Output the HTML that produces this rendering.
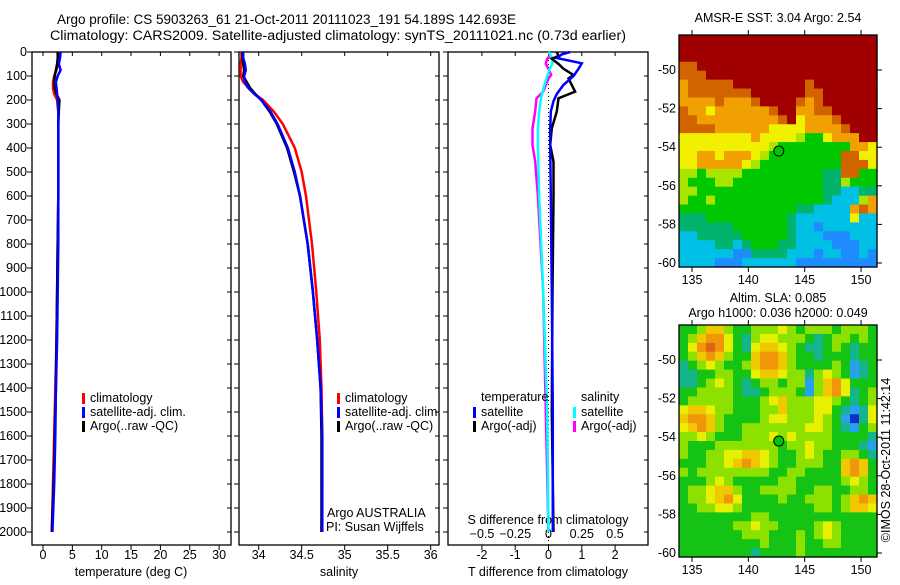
<!DOCTYPE html>
<html><head><meta charset="utf-8"><style>
body{margin:0;background:#fff;width:900px;height:580px;overflow:hidden}
svg text{font-family:"Liberation Sans",sans-serif;font-size:12.5px;fill:#000}
</style></head><body>
<svg id="s" width="900" height="580" xmlns="http://www.w3.org/2000/svg">
<text x="57" y="24" textLength="459" lengthAdjust="spacingAndGlyphs" style="font-size:13.5px">Argo profile: CS 5903263_61 21-Oct-2011 20111023_191 54.189S 142.693E</text>
<text x="50" y="40" textLength="576" lengthAdjust="spacingAndGlyphs" style="font-size:13.5px">Climatology: CARS2009. Satellite-adjusted climatology: synTS_20111021.nc (0.73d earlier)</text>
<text x="778" y="22" text-anchor="middle">AMSR-E SST: 3.04  Argo: 2.54</text>
<text x="778" y="302" text-anchor="middle">Altim. SLA: 0.085</text>
<text x="778" y="317" text-anchor="middle">Argo h1000: 0.036 h2000: 0.049</text>
<text transform="translate(890,460) rotate(-90)" text-anchor="middle">©IMOS 28-Oct-2011 11:42:14</text>
</svg>
<script>
const depths=[0,25,50,75,100,125,150,175,200,250,300,400,500,600,800,1000,1200,1400,1600,1800,2000];
const tempClim=[2.6,2.6,2.5,2.3,1.9,1.7,1.7,1.9,2.4,2.6,2.6,2.6,2.6,2.6,2.5,2.4,2.3,2.1,1.9,1.7,1.5];
const tempSat=[3.0,2.9,2.7,3.0,2.5,2.2,2.3,2.4,2.5,2.6,2.6,2.6,2.6,2.6,2.6,2.5,2.4,2.2,2.1,1.9,1.6];
const tempArgo=[2.5,2.5,2.4,2.2,2.0,1.9,2.0,2.3,2.8,2.7,2.6,2.6,2.6,2.6,2.5,2.4,2.3,2.2,2.0,1.8,1.5];
const salClim=[33.80,33.80,33.79,33.79,33.79,33.82,33.88,33.95,34.05,34.18,34.28,34.42,34.50,34.55,34.62,34.67,34.71,34.73,34.74,34.74,34.73];
const salSat=[33.82,33.82,33.84,33.85,33.83,33.84,33.88,33.95,34.03,34.14,34.22,34.34,34.42,34.48,34.57,34.63,34.68,34.72,34.74,34.74,34.74];
const salArgo=[33.81,33.81,33.82,33.83,33.82,33.86,33.90,33.96,34.03,34.13,34.21,34.33,34.41,34.48,34.57,34.63,34.68,34.72,34.73,34.73,34.73];
const diffDepthsSat=[0,10,25,47,70,100,137,175,205,248,320,400,600,1000,1500,2000];
const tDiffSat=[0.65,0.4,0.25,1.0,0.9,0.75,0.45,0.25,0.15,0.07,0.05,0.05,0.07,0.1,0.13,0.13];
const sDiffSat=[0,0.01,0.03,0.03,0.01,-0.01,-0.03,-0.05,-0.06,-0.07,-0.08,-0.08,-0.07,-0.04,-0.01,0];
const diffDepthsArgo=[0,17,28,50,70,96,110,165,193,248,318,387,457,600,1000,1500,2000];
const tDiffArgo=[0.25,0.3,0.1,0.3,0.45,0.75,0.6,0.8,0.3,0.25,0.1,0.05,0.15,0.15,0.12,0.1,0.15];
const sDiffArgo=[0.01,0.01,-0.01,-0.02,0,0.02,0,-0.04,-0.09,-0.1,-0.12,-0.12,-0.1,-0.08,-0.04,-0.02,0];
const depthTicks=[0,100,200,300,400,500,600,700,800,900,1000,1100,1200,1300,1400,1500,1600,1700,1800,1900,2000];
const tempTicks=[0,5,10,15,20,25,30];
const salTicks=[34,34.5,35,35.5,36];
const tDiffTicks=[-2,-1,0,1,2];
const sDiffTicks=[-0.5,-0.25,0,0.25,0.5];
const lonTicks=[135,140,145,150];
const latTicks=[-50,-52,-54,-56,-58,-60];
const argoLon=142.7, argoLat=-54.2;
const sstGrid=[
"8888888888888888888888","8888888888888888888888","8888888888888888888888",
"7788888888888888888888","7778888888888888888888","6777778888888878888888",
"6777777788888877888888","6666766678888767888888","7665666666788667788888",
"7766666666678566678888","7777666666555566667888","5555555565555433566688",
"5555555555433333333665","5566566654333333337755","5566666543333333337775",
"4434444333333333227733","4333443333333333224333","4433333333333333221122",
"4334333333333333211146","3333333333333221111676","2223333333332111111511",
"2222223333332110111111","1122222333332111000111","1111221233322111100011",
"1111110022221110110010","1111000111111000000000"];
const slaGrid=[
"3346643344454344434443","3467753245544432344343","3578753256654322343233",
"3467643367764332333233","2345433467764333343123","2233443356654424543123",
"2234543234434414675333","3344443223444314675234","3444443334564445543234",
"5665443334464445532125","6776433334554445431025","5676433444444455432134",
"4454333444545444433332","4333444444434454433321","4334455665433454334432",
"3334456765433444336763","4344444444334433336763","3334543333344333334543",
"3445664334444334433443","3445675333343344434676","3344554333333334434665",
"3333333344333333333333","3333334454433334543333","3333333444333434543333",
"3333333334333433443333","3333333323333433333333"];
const sstColors=["#1e8cff","#00c0e6","#00b46e","#00c800","#a8e600","#f0f000","#f0a000","#d26400","#a00000"];
const slaColors=["#0a32c8","#28a0f0","#14b48c","#14c314","#8ce100","#e6f000","#f0c800","#f0960a","#e16414"];

const svg=document.getElementById('s');const NS='http://www.w3.org/2000/svg';
function mk(t,a,p){const e=document.createElementNS(NS,t);for(const k in a)e.setAttribute(k,a[k]);(p||svg).appendChild(e);return e;}
function txt(x,y,s,anchor){const e=mk('text',{x:x,y:y,'text-anchor':anchor||'start'});e.textContent=s;return e;}
const yTop=52,yBot=545;
function yD(d){return 52+d*0.24;}

function panel(name,x0,x1){const r=mk('rect',{x:x0,y:yTop,width:x1-x0,height:yBot-yTop,fill:'none',stroke:'#000','stroke-width':1.3});


depthTicks.forEach(d=>{const y=yD(d);mk('line',{x1:x0-5,x2:x0,y1:y,y2:y,stroke:'#000'});mk('line',{x1:x1,x2:x1-4,y1:y,y2:y,stroke:'#000'});});}
function xticks(vals,sc,ylab){vals.forEach(v=>{const x=sc(v);mk('line',{x1:x,x2:x,y1:yBot,y2:yBot+5,stroke:'#000'});mk('line',{x1:x,x2:x,y1:yTop,y2:yTop+4,stroke:'#000'});
const t=txt(x,ylab,String(v),'middle');

});}
function line(xs,ds,sc,col,name,w){const pts=xs.map((v,i)=>sc(v).toFixed(1)+','+yD(ds[i]).toFixed(1)).join(' ');
const p=mk('polyline',{points:pts,fill:'none',stroke:col,'stroke-width':w||2.5});

}
function legend(x,y,items){items.forEach((it,i)=>{mk('rect',{x:x,y:y+i*14-9,width:3,height:11,fill:it[0]});const t=txt(x+8,y+i*14,it[1]);

});}

// Panel 1 temperature
const sxT=v=>43+v*5.87;
panel('temperature-panel',32,231);
depthTicks.forEach(d=>{const t=txt(27,yD(d)+4,String(d),'end');

});
xticks(tempTicks,sxT,559);
const xl1=txt(131,576,'temperature (deg C)','middle');


line(tempClim,depths,sxT,'#f00','temp-climatology-line');
line(tempArgo,depths,sxT,'#000','temp-argo-line');
line(tempSat,depths,sxT,'#00f','temp-satellite-line');
legend(82,402,[['#f00','climatology'],['#00f','satellite-adj. clim.'],['#000','Argo(..raw -QC)']]);

// Panel 2 salinity
const sxS=v=>258.7+(v-34)*86;
panel('salinity-panel',239,439);
xticks(salTicks,sxS,559);
const xl2=txt(339,576,'salinity','middle');


line(salClim,depths,sxS,'#f00','sal-climatology-line');
line(salArgo,depths,sxS,'#000','sal-argo-line');
line(salSat,depths,sxS,'#00f','sal-satellite-line');
legend(337,402,[['#f00','climatology'],['#00f','satellite-adj. clim.'],['#000','Argo(..raw -QC)']]);
const a1=txt(327,517,'Argo AUSTRALIA');
const a2=txt(326,531,'PI: Susan Wijffels');

// Panel 3 differences
const sxTd=v=>548.5+v*33.3;
const sxSd=v=>548.5+v*133;
panel('difference-panel',448,648);
xticks(tDiffTicks,sxTd,559);
sDiffTicks.forEach(v=>{const t=txt(sxSd(v),538,String(v).replace('-','−'),'middle');

});
const sdt=txt(548,524,'S difference from climatology','middle');
const tdt=txt(548,576,'T difference from climatology','middle');
mk('line',{x1:sxTd(0),x2:sxTd(0),y1:yTop,y2:yBot,stroke:'#000','stroke-dasharray':'1,3'});
line(sDiffArgo,diffDepthsArgo,sxSd,'#f0f','s-diff-argo-line');
line(sDiffSat,diffDepthsSat,sxSd,'#0ff','s-diff-satellite-line');
line(tDiffArgo,diffDepthsArgo,sxTd,'#000','t-diff-argo-line');
line(tDiffSat,diffDepthsSat,sxTd,'#00f','t-diff-satellite-line');
const lt=txt(481,401,'temperature');
const ls=txt(581,401,'salinity');
legend(473,416,[['#00f','satellite'],['#000','Argo(-adj)']]);
legend(573,416,[['#0ff','satellite'],['#f0f','Argo(-adj)']]);

// Maps
function map(name,grid,colors,x0,x1,y0,y1,lat50y,lat60y){
const lx=v=>692+(v-135)*11.27;
const ly=v=>lat50y+(-50-v)*(lat60y-lat50y)/10;
const rows=grid.length,cols=grid[0].length,cw=(x1-x0)/cols,ch=(y1-y0)/rows;
const g=mk('g',{});


grid.forEach((row,r)=>{for(let c=0;c<cols;c++){const v=+row[c];
const cell=mk('rect',{x:(x0+c*cw).toFixed(2),y:(y0+r*ch).toFixed(2),width:(cw+0.6).toFixed(2),height:(ch+0.6).toFixed(2),fill:colors[v]},g);

}});
mk('rect',{x:x0,y:y0,width:x1-x0,height:y1-y0,fill:'none',stroke:'#000','stroke-width':1.3});
lonTicks.forEach(v=>{const x=lx(v);mk('line',{x1:x,x2:x,y1:y1,y2:y1+5,stroke:'#000'});mk('line',{x1:x,x2:x,y1:y0,y2:y0-5,stroke:'#000'});
const t=txt(x,y1+17,String(v),'middle');

});
latTicks.forEach(v=>{const y=ly(v);mk('line',{x1:x1,x2:x1+5,y1:y,y2:y,stroke:'#000'});
const t=txt(676,y+4,String(v),'end');

});
const m=mk('circle',{cx:lx(argoLon),cy:ly(argoLat),r:5,fill:'#00c800',stroke:'#000','stroke-width':1});

}
map('sst-map',sstGrid,sstColors,679,877,35,267,70,263);
map('sla-map',slaGrid,slaColors,679,877,325,557,360,553);
</script>
</body></html>
